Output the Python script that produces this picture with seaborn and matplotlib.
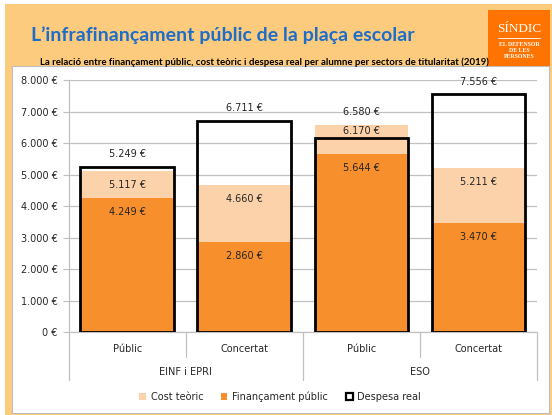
"""
Infrafinançament públic de la plaça escolar: cost teòric, finançament i despesa real per alumne.
"""

import pandas as pd
import matplotlib.pyplot as plt
import seaborn as sns
from matplotlib.patches import Patch, Rectangle
from matplotlib.ticker import FuncFormatter, MultipleLocator

# Data (EUR per student, 2019)
groups = ['EINF i EPRI', 'EINF i EPRI', 'ESO', 'ESO']
sectors = ['Públic', 'Concertat', 'Públic', 'Concertat']
cost_teoric = [5117, 4660, 6580, 5211]
financament = [4249, 2860, 5644, 3470]
despesa_real = [5249, 6711, 6170, 7556]

LIGHT = '#FCD2AA'
ORANGE = '#F78F2C'
BG = '#FDCB7E'
TEXT = '#262626'
GRID = '#C0C0C0'

df = pd.DataFrame({
    'key': [f'{g} - {s}' for g, s in zip(groups, sectors)],
    'group': groups,
    'sector': sectors,
    'cost': cost_teoric,
    'fin': financament,
    'desp': despesa_real,
})

sns.set_style('white')
plt.rcParams['font.family'] = ['DejaVu Sans']

W, H = 552, 415
fig = plt.figure(figsize=(W / 100, H / 100), dpi=100, facecolor='white')

# slide background + white chart panel
fig.patches.append(Rectangle((5 / W, 0), 1, 1 - 4 / H, transform=fig.transFigure,
                             facecolor=BG, edgecolor='none', zorder=-3))
fig.patches.append(Rectangle((12 / W, 2 / H), 537 / W, 347 / H, transform=fig.transFigure,
                             facecolor='white', edgecolor='#BDBDBD', linewidth=0.8, zorder=-2))

# logo box
fig.patches.append(Rectangle((488 / W, 1 - 66 / H), 62 / W, 56 / H, transform=fig.transFigure,
                             facecolor='#FF7300', edgecolor='none', zorder=-1))
fig.text(519 / W, 1 - 29 / H, 'SÍNDIC', color='white', fontsize=9.5, ha='center', va='center',
         family='Liberation Serif')
fig.add_artist(plt.Line2D([498 / W, 540 / W], [1 - 38 / H, 1 - 38 / H], color='white', lw=0.6,
                          transform=fig.transFigure))
for txt, yy in [('EL DEFENSOR', 44), ('DE LES', 50), ('PERSONES', 56)]:
    fig.text(519 / W, 1 - yy / H, txt, color='white', fontsize=4.2, ha='center', va='center',
             family='Liberation Serif', fontweight='bold')

# titles
fig.text(31 / W, 1 - 35 / H, 'L\u2019infrafinançament públic de la plaça escolar', color='#1E6EC8',
         fontsize=14, fontweight='bold', ha='left', va='center', family='Lato')
fig.text(40 / W, 1 - 62 / H,
         'La relació entre finançament públic, cost teòric i despesa real per alumne per sectors de titularitat (2019)',
         color='black', fontsize=6.9, fontweight='bold', ha='left', va='center', family='Lato')

ax = fig.add_axes([68.7 / W, 1 - 332.3 / H, (537 - 68.7) / W, (332.3 - 80) / H])
ax.set_facecolor('white')

sns.barplot(data=df, x='key', y='cost', color=LIGHT, width=0.8, saturation=1, ax=ax, zorder=2,
            edgecolor='none', linewidth=0)
sns.barplot(data=df, x='key', y='fin', color=ORANGE, width=0.8, saturation=1, ax=ax, zorder=3,
            edgecolor='none', linewidth=0)
sns.barplot(data=df, x='key', y='desp', color='black', fill=False, width=0.8, linewidth=2,
            ax=ax, zorder=4)

ax.set_ylim(0, 8000)
ax.set_xlim(-0.5, 3.5)
ax.yaxis.set_major_locator(MultipleLocator(1000))
ax.yaxis.set_major_formatter(FuncFormatter(lambda v, p: f'{int(v):,}'.replace(',', '.') + ' €'))
ax.grid(axis='y', color=GRID, linewidth=0.9, zorder=0)
ax.set_axisbelow(True)
ax.tick_params(axis='y', length=4, color=GRID, labelsize=7, labelcolor=TEXT, pad=4, left=True)
ax.tick_params(axis='x', length=0, labelbottom=False)
ax.set_xlabel('')
ax.set_ylabel('')
for side in ['top', 'right']:
    ax.spines[side].set_visible(False)
for side in ['left', 'bottom']:
    ax.spines[side].set_color(GRID)
    ax.spines[side].set_linewidth(0.9)


def eur(v):
    return f'{v:,}'.replace(',', '.') + ' €'


# value labels
for i, row in df.iterrows():
    top = max(row['cost'], row['desp'])
    ax.annotate(eur(top), (i, top), xytext=(0, 9), textcoords='offset points',
                ha='center', va='center', fontsize=7, color=TEXT, zorder=5)
    if row['cost'] > row['desp']:
        ax.annotate(eur(row['desp']), (i, (row['desp'] + row['cost']) / 2), ha='center',
                    va='center', fontsize=7, color=TEXT, zorder=5)
    else:
        ax.annotate(eur(row['cost']), (i, row['cost']), xytext=(0, -10), textcoords='offset points',
                    ha='center', va='center', fontsize=7, color=TEXT, zorder=5)
    ax.annotate(eur(row['fin']), (i, row['fin']), xytext=(0, -10), textcoords='offset points',
                ha='center', va='center', fontsize=7, color=TEXT, zorder=5)

# two-level category axis
trans = ax.get_xaxis_transform()
axh = (332.3 - 80)
for i, s in enumerate(sectors):
    ax.text(i, -17 / axh, s, transform=trans, ha='center', va='center', fontsize=7, color=TEXT)
for xb in [-0.5, 0.5, 1.5, 2.5, 3.5]:
    outer = xb in (-0.5, 1.5, 3.5)
    ax.plot([xb, xb], [0, -(48 if outer else 25) / axh], transform=trans, color=GRID,
            linewidth=0.9, clip_on=False)
group_names = list(dict.fromkeys(groups))
for gi, g in enumerate(group_names):
    idx = [i for i, gg in enumerate(groups) if gg == g]
    ax.text(sum(idx) / len(idx), -40 / axh, g, transform=trans, ha='center', va='center',
            fontsize=7, color=TEXT)

handles = [Patch(facecolor=LIGHT, edgecolor='none', label='Cost teòric'),
           Patch(facecolor=ORANGE, edgecolor='none', label='Finançament públic'),
           Patch(facecolor='white', edgecolor='black', linewidth=1.6, label='Despesa real')]
fig.legend(handles=handles, loc='center', bbox_to_anchor=(280 / W, 1 - 397 / H), ncol=3,
           frameon=False, fontsize=7, handlelength=0.7, handleheight=0.7, handletextpad=0.5,
           columnspacing=1.8, labelcolor=TEXT)

fig.savefig('out.png', dpi=100, facecolor=fig.get_facecolor())
